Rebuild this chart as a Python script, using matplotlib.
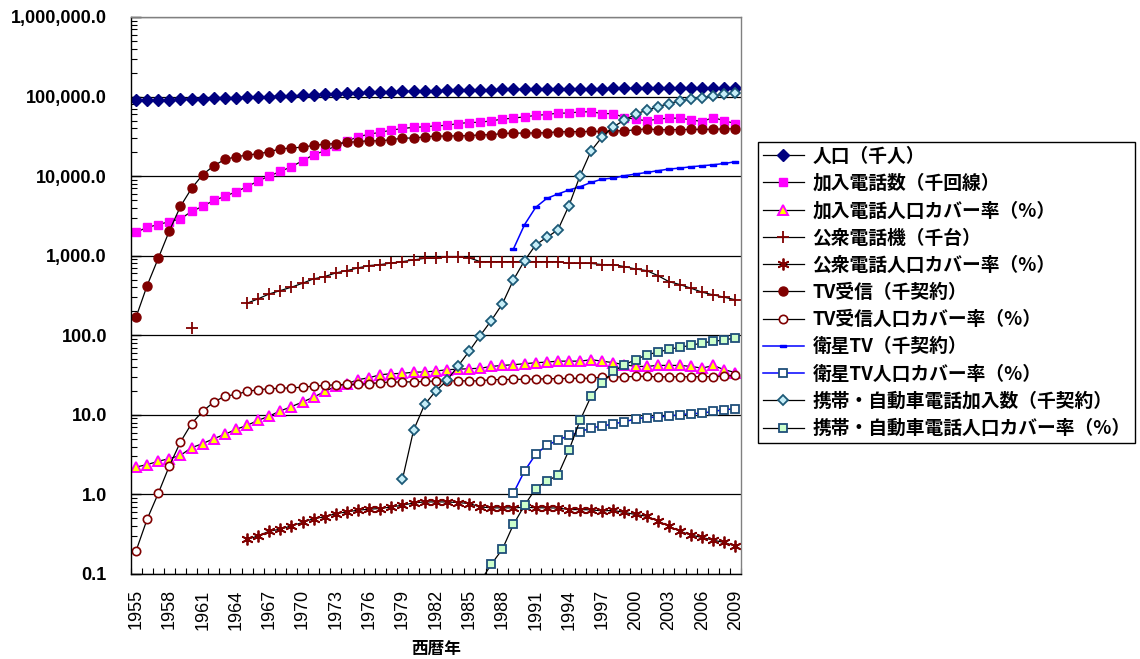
import numpy as np
import matplotlib
matplotlib.use("Agg")
import matplotlib.pyplot as plt
from matplotlib.ticker import FixedLocator, FuncFormatter, NullFormatter

plt.rcParams['font.family'] = ['Noto Sans CJK JP', 'DejaVu Sans']

nan = np.nan

years = list(range(1955, 2010))

# 人口（千人）
population = [89276, 90172, 90928, 91767, 92641, 93419, 94287, 95181, 96156, 97182,
              98275, 99036, 100196, 101331, 102536, 103720, 105145, 107595, 109104, 110573,
              111940, 113094, 114165, 115190, 116155, 117060, 117902, 118728, 119536, 120305,
              121049, 121660, 122239, 122745, 123205, 123611, 124101, 124567, 124938, 125265,
              125570, 125859, 126157, 126472, 126667, 126926, 127316, 127486, 127694, 127787,
              127768, 127901, 128033, 127692, 127510]

# 加入電話数（千回線）
lines = [1970, 2270, 2460, 2680, 2900, 3600, 4170, 4950, 5560, 6370,
         7360, 8690, 10030, 11460, 13130, 15600, 18570, 20850, 23880, 27560,
         31200, 33700, 35550, 37860, 39700, 41000, 41700, 42900, 43500, 45800,
         47200, 47500, 49600, 52000, 53600, 55600, 58000, 59500, 61900, 62000,
         64300, 64300, 61200, 61000, 54500, 52000, 49600, 52000, 53600, 53500,
         51000, 48600, 54500, 49600, 45800]

# 加入電話人口カバー率（%）
lines_rate = [2.21, 2.37, 2.61, 2.82, 3.10, 3.87, 4.35, 5.03, 5.69, 6.57,
              7.38, 8.53, 9.66, 11.2, 12.7, 14.5, 16.7, 19.7, 22.8, 24.6,
              27.7, 29.3, 31.9, 32.9, 33.2, 34.4, 34.6, 35.5, 36.9, 37.5,
              38.0, 38.5, 40.6, 41.8, 42.7, 43.9, 45.2, 46.0, 47.3, 47.3,
              47.3, 49.3, 47.3, 45.2, 42.7, 40.6, 40.6, 41.8, 41.8, 41.8,
              40.6, 38.6, 41.8, 36.9, 34.0]

# 公衆電話機（千台）
public_phones = [nan, nan, nan, nan, nan, 123, nan, nan, nan, nan,
                 253, 287, 331, 365, 402, 451, 512, 547, 608, 650,
                 703, 752, 773, 811, 843, 885, 927, 927, 975, 975,
                 941, 843, 843, 843, 843, 843, 843, 843, 843, 801,
                 801, 801, 773, 773, 730, 682, 650, 563, 473, 434,
                 390, 348, 322, 301, 279]

# 公衆電話人口カバー率（%）
public_rate = [nan] * 10 + [
    0.272, 0.301, 0.345, 0.366, 0.403, 0.444, 0.498, 0.522, 0.575, 0.603,
    0.634, 0.652, 0.665, 0.697, 0.731, 0.782, 0.805, 0.805, 0.805, 0.79,
    0.769, 0.697, 0.678, 0.678, 0.678, 0.69, 0.68, 0.678, 0.675, 0.645,
    0.645, 0.64, 0.621, 0.63, 0.593, 0.56, 0.533, 0.466, 0.399, 0.345,
    0.308, 0.288, 0.266, 0.249, 0.224]

# TV受信（千契約）
tv = [169, 422, 927, 2050, 4170, 7010, 10420, 13500, 16200, 17500,
      18400, 19100, 20200, 22100, 22500, 23200, 24300, 25200, 25700, 26500,
      27200, 27800, 27800, 28700, 30100, 30100, 31200, 31900, 31900, 32200,
      32200, 33100, 33100, 34400, 34700, 34800, 34900, 35100, 36100, 36200,
      36300, 36400, 36500, 37100, 37200, 38200, 39300, 38300, 38400, 38500,
      38600, 38700, 38800, 39200, 39400]

# TV受信人口カバー率（%）
tv_rate = [0.195, 0.489, 1.03, 2.28, 4.56, 7.76, 11.07, 14.5, 17.1, 18.1,
           19.7, 20.7, 21.3, 21.6, 21.9, 22.2, 23.0, 23.4, 23.9, 24.1,
           24.2, 24.6, 25.4, 25.8, 25.9, 26.0, 26.3, 26.6, 26.7, 26.8,
           26.7, 26.8, 27.7, 27.8, 27.9, 28.0, 28.2, 28.4, 28.6, 28.7,
           28.8, 28.9, 29.8, 29.9, 30.0, 30.4, 30.6, 30.0, 30.1, 30.1,
           30.2, 30.2, 30.3, 30.7, 31.3]

# 衛星TV（千契約）
bs = [nan] * 34 + [1217, 2455, 4050, 5250, 5960, 6690, 7360, 8340, 9180, 9460,
                   10120, 10620, 11120, 11690, 12270, 12620, 13120, 13500, 13900, 14430, 15170]

# 衛星TV人口カバー率（%）
bs_rate = [nan] * 34 + [1.04, 1.97, 3.19, 4.14, 4.78, 5.53, 6.08, 6.90, 7.18, 7.76,
                        8.13, 8.96, 9.23, 9.4, 9.66, 10.05, 10.35, 10.5, 11.07, 11.6, 11.97]

# 携帯・自動車電話加入数（千契約）
mobile = [nan] * 24 + [1.55, 6.4, 13.5, 19.9, 27.1, 40.9, 62.7, 99, 153, 248,
                       497, 868, 1365, 1703, 2105, 4255, 10120, 20850, 31200, 41700,
                       50600, 60100, 67500, 74300, 81700, 88300, 92700, 97200, 102100, 107200, 110300]

# 携帯・自動車電話人口カバー率（%）
mobile_rate = [nan] * 31 + [0.08, 0.132, 0.205, 0.419, 0.731, 1.18, 1.47, 1.74, 3.59, 8.53, 17.2,
                            25.4, 35.2, 42.7, 49.3, 56.9, 61.4, 66.4, 71.0, 74.5, 80.5, 83.6, 87.9, 92.0]

labels = ["人口（千人）", "加入電話数（千回線）", "加入電話人口カバー率（%）",
          "公衆電話機（千台）", "公衆電話人口カバー率（%）", "TV受信（千契約）",
          "TV受信人口カバー率（%）", "衛星TV（千契約）", "衛星TV人口カバー率（%）",
          "携帯・自動車電話加入数（千契約）", "携帯・自動車電話人口カバー率（%）"]

y_decades = [0.1, 1, 10, 100, 1000, 10000, 100000, 1000000]

W, H = 1140, 659
fig = plt.figure(figsize=(W / 100, H / 100), dpi=100)
ax = fig.add_axes([130.5 / W, 1 - 574 / H, 610.5 / W, 557 / H])

x = np.arange(len(years))
dash = [(-1, -0.35), (1, -0.35), (1, 0.35), (-1, 0.35), (-1, -0.35)]

ax.plot(x, population, color='black', lw=0.9, marker='D', ms=6,
        mfc='#000080', mec='#000080', label=labels[0])
ax.plot(x, lines, color='black', lw=0.9, marker='s', ms=6,
        mfc='#FF00FF', mec='#FF00FF', label=labels[1])
ax.plot(x, lines_rate, color='black', lw=0.9, marker='^', ms=7.5,
        mfc='#FFFF00', mec='#FF00FF', mew=1.4, label=labels[2])
ax.plot(x, public_phones, color='black', lw=0.9, marker='+', ms=8.5,
        mec='#800000', mew=1.3, label=labels[3])
ax.plot(x, public_rate, color='black', lw=0.9, marker=(6, 2, 0), ms=8.5,
        mec='#800000', mew=1.3, label=labels[4])
ax.plot(x, tv, color='black', lw=0.9, marker='o', ms=6.5,
        mfc='#800000', mec='#800000', label=labels[5])
ax.plot(x, tv_rate, color='black', lw=0.9, marker='o', ms=6,
        mfc='white', mec='#800000', mew=1.2, label=labels[6])
ax.plot(x, bs, color='#0000FF', lw=1.1, marker=dash, ms=5,
        mfc='#0000FF', mec='#0000FF', label=labels[7])
ax.plot(x, bs_rate, color='#0000FF', lw=1.1, marker='s', ms=5.5,
        mfc='white', mec='#1F4E79', mew=1.3, label=labels[8])
ax.plot(x, mobile, color='black', lw=0.9, marker='D', ms=5.5,
        mfc='#C6EEF8', mec='#1D5A78', mew=1.3, label=labels[9])
ax.plot(x, mobile_rate, color='black', lw=0.9, marker='s', ms=5.8,
        mfc='#CCFFCC', mec='#1F4E79', mew=1.3, label=labels[10])

ax.set_yscale('log')
ax.set_ylim(0.1, 1e6)
ax.set_xlim(-0.5, len(years) - 0.5)

minor = [m * d for d in y_decades[:-1] for m in range(2, 10)]
ax.yaxis.set_major_locator(FixedLocator(y_decades))
ax.yaxis.set_minor_locator(FixedLocator(minor))
ax.yaxis.set_minor_formatter(NullFormatter())
ax.yaxis.set_major_formatter(FuncFormatter(lambda v, p: f"{v:,.1f}"))
ax.tick_params(axis='y', which='major', direction='in', length=7, width=1, pad=17,
               labelfontfamily='Liberation Sans', labelsize=13)
ax.tick_params(axis='y', which='minor', direction='in', length=4, width=0.8)
for t in ax.get_yticklabels():
    t.set_fontweight('bold')

ax.xaxis.set_major_locator(FixedLocator(x[::3]))
ax.set_xticklabels([str(y) for y in years[::3]], rotation=90,
                   fontfamily='Liberation Sans', fontsize=13)
ax.xaxis.set_minor_locator(FixedLocator(np.arange(-0.5, len(years), 1.0)))
ax.tick_params(axis='x', which='major', length=0, pad=11)
ax.tick_params(axis='x', which='minor', direction='in', length=4, width=0.8)

ax.set_axisbelow(True)
ax.yaxis.grid(True, which='major', color='black', lw=0.9)
ax.spines['left'].set_color('black')
ax.spines['bottom'].set_color('black')
ax.spines['top'].set_color('#808080')
ax.spines['right'].set_color('#808080')
for s in ax.spines.values():
    s.set_linewidth(1)

# x axis title placed directly (the CJK font's line box is tall)
fig.text(436 / W, 1 - 649 / H, "西暦年", fontsize=12, fontweight='bold',
         ha='center', va='center')

leg = ax.legend(loc='upper left', bbox_to_anchor=(758 / W, 1 - 142 / H),
                bbox_transform=fig.transFigure, borderaxespad=0,
                prop={'family': ['Noto Sans CJK JP', 'DejaVu Sans'], 'weight': 'bold', 'size': 13.5},
                frameon=True, fancybox=False, edgecolor='black', framealpha=1,
                handlelength=2.2, handletextpad=0.45, labelspacing=0.44,
                borderpad=0.25)
leg.get_frame().set_linewidth(1)

fig.savefig("out.png", dpi=100)
